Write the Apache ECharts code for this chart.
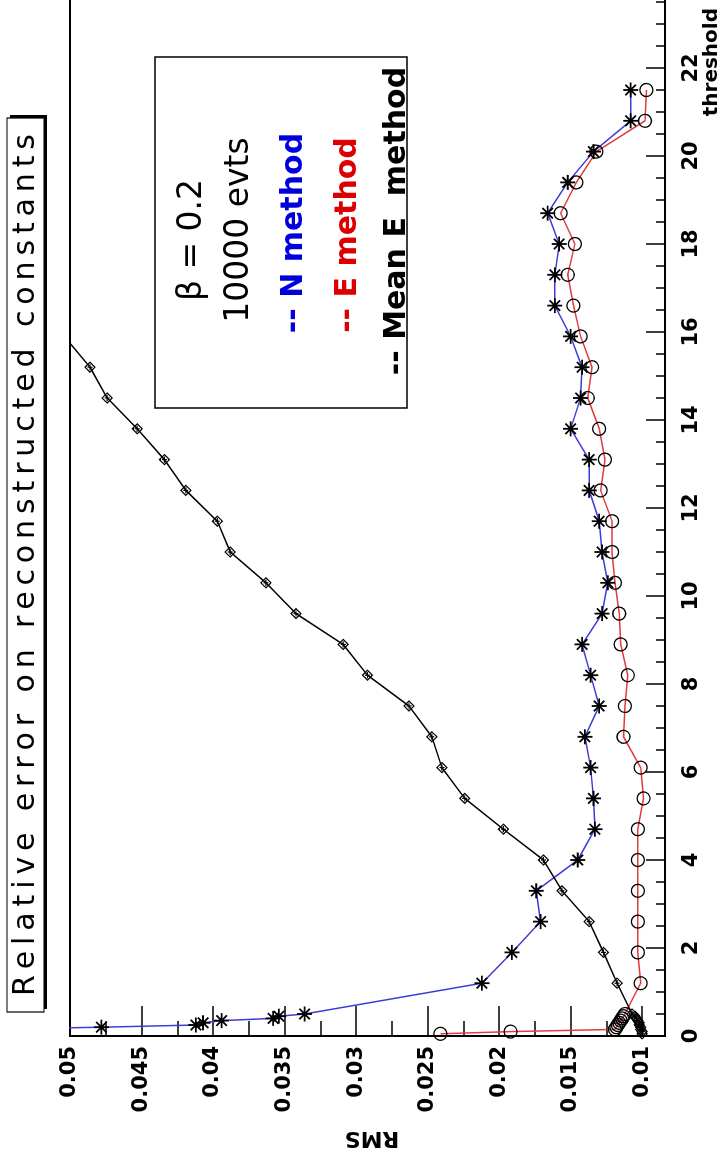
<!DOCTYPE html>
<html>
<head>
<meta charset="utf-8">
<script src="https://cdn.jsdelivr.net/npm/echarts@6/dist/echarts.min.js"></script>
<style>
  html, body { margin: 0; padding: 0; background: #fff; width: 722px; height: 1162px; overflow: hidden; }
  #chart {
    position: absolute; left: 0; top: 0;
    width: 1162px; height: 722px;
    transform-origin: 0 0;
    transform: translate(0, 1162px) rotate(-90deg);
  }
</style>
</head>
<body>
<div id="chart"></div>
<script>
const thresholds = [0.05, 0.1, 0.15, 0.2, 0.25, 0.3, 0.35, 0.4, 0.45, 0.5,
  1.2, 1.9, 2.6, 3.3, 4.0, 4.7, 5.4, 6.1, 6.8, 7.5,
  8.2, 8.9, 9.6, 10.3, 11.0, 11.7, 12.4, 13.1, 13.8, 14.5,
  15.2, 15.9, 16.6, 17.3, 18.0, 18.7, 19.4, 20.1, 20.8, 21.5];

const nMethod = [null, null, 0.0565, 0.0478, 0.0412, 0.0407, 0.0394, 0.0358, 0.0354, 0.0336,
  0.0212, 0.0191, 0.0171, 0.0174, 0.0145, 0.0133, 0.0134, 0.0136, 0.0140, 0.0130,
  0.0136, 0.0142, 0.0128, 0.0124, 0.0128, 0.0130, 0.0137, 0.0137, 0.0150, 0.0143,
  0.0142, 0.0150, 0.0161, 0.0161, 0.0158, 0.0166, 0.0152, 0.0134, 0.0108, 0.0108];

const eMethod = [0.0241, 0.0192, 0.0119, 0.0118, 0.0117, 0.0116, 0.0115, 0.0114, 0.0113, 0.0112,
  0.0101, 0.0103, 0.0103, 0.0103, 0.0103, 0.0103, 0.0099, 0.0101, 0.0113, 0.0112,
  0.0110, 0.0115, 0.0116, 0.0119, 0.0121, 0.0121, 0.0129, 0.0126, 0.0130, 0.0138,
  0.0135, 0.0143, 0.0148, 0.0152, 0.0147, 0.0157, 0.0146, 0.0132, 0.0098, 0.0097];

const meanEMethod = [0.0100, 0.0100, 0.0101, 0.0101, 0.0102, 0.0102, 0.0103, 0.0104, 0.0105, 0.0107,
  0.01175, 0.0127, 0.0137, 0.0156, 0.0169, 0.0197, 0.0224, 0.0240, 0.0247, 0.0263,
  0.0292, 0.0309, 0.0342, 0.0363, 0.0388, 0.0397, 0.0419, 0.0434, 0.0453, 0.0474,
  0.0486, 0.0504, null, null, null, null, null, null, null, null];

const rmsMajorTicks = [0.01, 0.015, 0.02, 0.025, 0.03, 0.035, 0.04, 0.045, 0.05];
const rmsMinorTicks = [0.0125, 0.0175, 0.0225, 0.0275, 0.0325, 0.0375, 0.0425, 0.0475];

const TITLE = 'Relative error on reconstructed constants';
const FONT = '"DejaVu Sans", "Liberation Sans", sans-serif';
const BLUE_LINE = 'rgb(60,60,215)';
const RED_LINE = 'rgb(225,60,60)';

const STAR = 'path://M10,0L10,20M0,10L20,10M3,3L17,17M3,17L17,3';
const DIAMOND = 'path://M5,0L9,5L5,10L1,5ZM5,2.5L5,7.5M2.5,5L7.5,5';

const toPoints = (values) =>
  thresholds.map((t, i) => [t, values[i]]).filter((p) => p[1] !== null);

const ctx = document.createElement('canvas').getContext('2d');

// ROOT draws the title letter-spaced, so lay it out one glyph at a time
const spacedText = (text, centerX, y, fontSize, width) => {
  ctx.font = fontSize + 'px ' + FONT;
  const widths = Array.from(text).map((ch) => ctx.measureText(ch).width);
  const natural = widths.reduce((a, b) => a + b, 0);
  const gap = (width - natural) / (widths.length - 1);
  let x = centerX - width / 2;
  return Array.from(text).map((ch, i) => {
    const el = {
      type: 'text',
      x,
      y,
      z: 12,
      style: { text: ch, fill: '#000', fontSize, fontFamily: FONT, align: 'left', verticalAlign: 'middle' },
    };
    x += widths[i] + gap;
    return el;
  });
};

const makeSeries = (name, values, color, symbol, size, border) => ({
  name,
  type: 'line',
  data: toPoints(values),
  symbol,
  symbolSize: size,
  clip: true,
  lineStyle: { color, width: 1.5 },
  itemStyle: { color: 'rgba(0,0,0,0)', borderColor: '#000', borderWidth: border },
});

const label = (text, x, y, size, color, weight) => ({
  type: 'text',
  x,
  y,
  z: 20,
  style: {
    text,
    fill: color,
    fontSize: size,
    fontFamily: FONT,
    fontWeight: weight,
    align: 'center',
    verticalAlign: 'middle',
  },
});

const init = () => {
  const chart = echarts.init(document.getElementById('chart'), null, { renderer: 'canvas' });

  chart.setOption({
    animation: false,
    backgroundColor: '#fff',
    grid: {
      left: 126, width: 1056, top: 70, bottom: 57,
      containLabel: false,
      outerBoundsMode: 'none',
      show: true, borderColor: '#000', borderWidth: 2, backgroundColor: 'transparent',
    },
    xAxis: {
      type: 'value',
      min: 0,
      max: 24,
      interval: 2,
      axisLine: { show: true, lineStyle: { color: '#000', width: 2 } },
      axisTick: { show: true, inside: true, length: 19, lineStyle: { color: '#000', width: 1.5 } },
      minorTick: { show: true, splitNumber: 4, length: 9, lineStyle: { color: '#000', width: 1.5 } },
      axisLabel: { margin: 16, color: '#000', fontFamily: FONT, fontWeight: 'bold', fontSize: 21 },
      splitLine: { show: false },
    },
    yAxis: [
      {
        type: 'value',
        min: 0.0084,
        max: 0.05,
        axisLine: { show: true, lineStyle: { color: '#000', width: 2 } },
        axisTick: { show: true, inside: true, length: 30, customValues: rmsMajorTicks, lineStyle: { color: '#000', width: 1.5 } },
        axisLabel: {
          customValues: rmsMajorTicks,
          margin: 10,
          color: '#000',
          fontFamily: FONT,
          fontWeight: 'bold',
          fontSize: 21,
          formatter: (v) => String(+v.toFixed(4)),
        },
        splitLine: { show: false },
      },
      {
        type: 'value',
        min: 0.0084,
        max: 0.05,
        position: 'left',
        axisLine: { show: false },
        axisTick: { show: true, inside: true, length: 15, customValues: rmsMinorTicks, lineStyle: { color: '#000', width: 1.5 } },
        axisLabel: { show: false },
        splitLine: { show: false },
      },
    ],
    series: [
      makeSeries('N method', nMethod, BLUE_LINE, STAR, 15, 1.8),
      makeSeries('E method', eMethod, RED_LINE, 'circle', 13, 1.3),
      makeSeries('Mean E method', meanEMethod, '#000', DIAMOND, 10, 1.2),
    ],
    graphic: [
      { type: 'rect', z: 10, shape: { x: 153, y: 10, width: 894, height: 37 }, style: { fill: '#000' } },
      { type: 'rect', z: 11, shape: { x: 150, y: 7, width: 894, height: 37 }, style: { fill: '#fff', stroke: '#000', lineWidth: 1.2 } },
      ...spacedText(TITLE, 597, 26, 30, 862),
      { type: 'rect', z: 15, shape: { x: 754, y: 155, width: 351, height: 252 }, style: { fill: '#fff', stroke: '#000', lineWidth: 1.5 } },
      label('β = 0.2', 922, 192, 33, '#000', 'normal'),
      label('10000 evts', 932, 239, 33, '#000', 'normal'),
      label('-- N method', 929, 294, 30, '#0000dd', 'bold'),
      label('-- E method', 927, 348, 30, '#dd0000', 'bold'),
      label('-- Mean E  method', 941, 397, 30, '#000', 'bold'),
      {
        type: 'text',
        x: 1154,
        y: 712,
        z: 20,
        style: { text: 'threshold', fill: '#000', fontSize: 20, fontFamily: FONT, fontWeight: 'bold', align: 'right', verticalAlign: 'middle' },
      },
      {
        type: 'text',
        x: 24,
        y: 372,
        z: 20,
        rotation: Math.PI / 2,
        style: { text: 'RMS', fill: '#000', fontSize: 22, fontFamily: FONT, fontWeight: 'bold', align: 'center', verticalAlign: 'middle' },
      },
    ],
  });
};

init();
</script>
</body>
</html>
